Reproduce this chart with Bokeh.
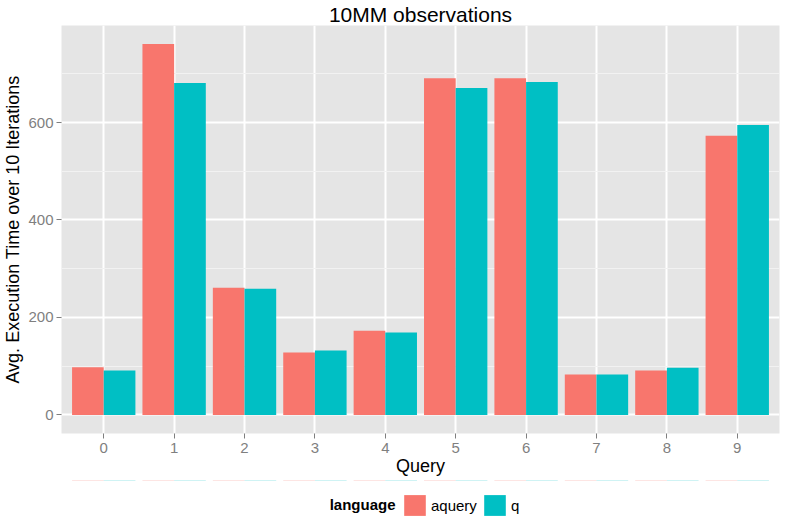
from bokeh.plotting import figure
from bokeh.layouts import column
from bokeh.models import (ColumnDataSource, Range1d, FixedTicker, Legend, LegendItem, Label,
                          BoxAnnotation)
from bokeh.transform import dodge
from bokeh.embed import file_html
from bokeh.resources import INLINE

queries = [0, 1, 2, 3, 4, 5, 6, 7, 8, 9]
aquery = [98, 761, 261, 128, 173, 691, 691, 83, 91, 573]
q = [91, 681, 259, 132, 169, 671, 683, 83, 97, 595]
languages = ["aquery", "q"]
colors = ["#F8766D", "#00BFC4"]
y_ticks = [0, 200, 400, 600]
y_minor = [100, 300, 500, 700]

FONT = "Liberation Sans"
GREY = "#7F7F7F"
W = 781

src = ColumnDataSource(dict(query=queries, aquery=aquery, q=q))

ymax = max(aquery + q)
pad = 0.05 * ymax

p = figure(width=W, height=480, output_backend="svg", toolbar_location=None,
           x_range=Range1d(-0.6, 9.6), y_range=Range1d(-pad, ymax + pad),
           min_border_left=54, min_border_right=2, min_border_top=0, min_border_bottom=47,
           title="10MM observations")

p.title.align = "center"
p.title.text_font = FONT
p.title.text_font_size = "21px"
p.title.text_font_style = "normal"
p.title.text_color = "black"
p.title.standoff = 0
p.title.offset = 0

p.background_fill_color = "#E5E5E5"
p.border_fill_color = "white"
p.outline_line_color = None

r1 = p.vbar(x=dodge("query", -0.225, range=p.x_range), top="aquery", width=0.45,
            source=src, fill_color=colors[0], line_color=None)
r2 = p.vbar(x=dodge("query", 0.225, range=p.x_range), top="q", width=0.45,
            source=src, fill_color=colors[1], line_color=None)

p.xaxis.ticker = FixedTicker(ticks=queries)
p.yaxis.ticker = FixedTicker(ticks=y_ticks, minor_ticks=y_minor)
p.xgrid.ticker = FixedTicker(ticks=queries)

p.grid.grid_line_color = "white"
p.grid.grid_line_width = 2
p.ygrid.minor_grid_line_color = "#F2F2F2"
p.ygrid.minor_grid_line_width = 1

p.axis.axis_line_color = None
p.axis.major_tick_line_color = GREY
p.axis.major_tick_line_width = 1
p.axis.major_tick_out = 5
p.axis.major_tick_in = 0
p.axis.minor_tick_line_color = None
p.axis.major_label_text_color = GREY
p.axis.major_label_text_font = FONT
p.axis.major_label_text_font_size = "15px"
p.axis.major_label_standoff = 3
p.axis.axis_label_text_font = FONT
p.axis.axis_label_text_font_size = "18px"
p.axis.axis_label_text_font_style = "normal"
p.axis.axis_label_text_color = "black"
p.xaxis.axis_label = "Query"
p.yaxis.axis_label = "Avg. Execution Time over 10 Iterations"
p.xaxis.major_label_standoff = 4
p.xaxis.axis_label_standoff = 0
p.yaxis.axis_label_standoff = 2

# legend strip below the plot; its key renderers are hidden under a white cover
p2 = figure(width=W, height=38, output_backend="svg", toolbar_location=None,
            x_range=p.x_range, y_range=Range1d(-2, -1),
            x_axis_type=None, y_axis_type=None,
            min_border_left=0, min_border_right=0, min_border_top=0, min_border_bottom=0)
p2.outline_line_color = None
p2.background_fill_color = "white"
p2.border_fill_color = "white"
k1 = p2.vbar(x=dodge("query", -0.225, range=p2.x_range), top="aquery", bottom="aquery",
             width=0.45, source=src, fill_color=colors[0], line_color=None)
k2 = p2.vbar(x=dodge("query", 0.225, range=p2.x_range), top="q", bottom="q",
             width=0.45, source=src, fill_color=colors[1], line_color=None)

cover = BoxAnnotation(fill_color="white", fill_alpha=1.0, line_color=None)
p2.add_layout(cover)

legend = Legend(items=[LegendItem(label=languages[0], renderers=[k1]),
                       LegendItem(label=languages[1], renderers=[k2])],
                orientation="horizontal", location=(340, 0))
legend.label_text_font = FONT
legend.label_text_font_size = "15px"
legend.label_text_color = "black"
legend.label_standoff = 3
legend.glyph_width = 27
legend.glyph_height = 26
legend.label_height = 26
legend.spacing = 4
legend.padding = 1
legend.margin = 0
legend.border_line_color = None
legend.background_fill_color = None
p2.add_layout(legend)

title_lbl = Label(x=334, y=14, x_units="screen", y_units="screen", text="language",
                  text_font=FONT, text_font_style="bold", text_font_size="15px",
                  text_align="right", text_baseline="middle", text_color="black")
p2.add_layout(title_lbl)

layout = column(p, p2, spacing=0)
open("out.html", "w").write(file_html(layout, INLINE))
